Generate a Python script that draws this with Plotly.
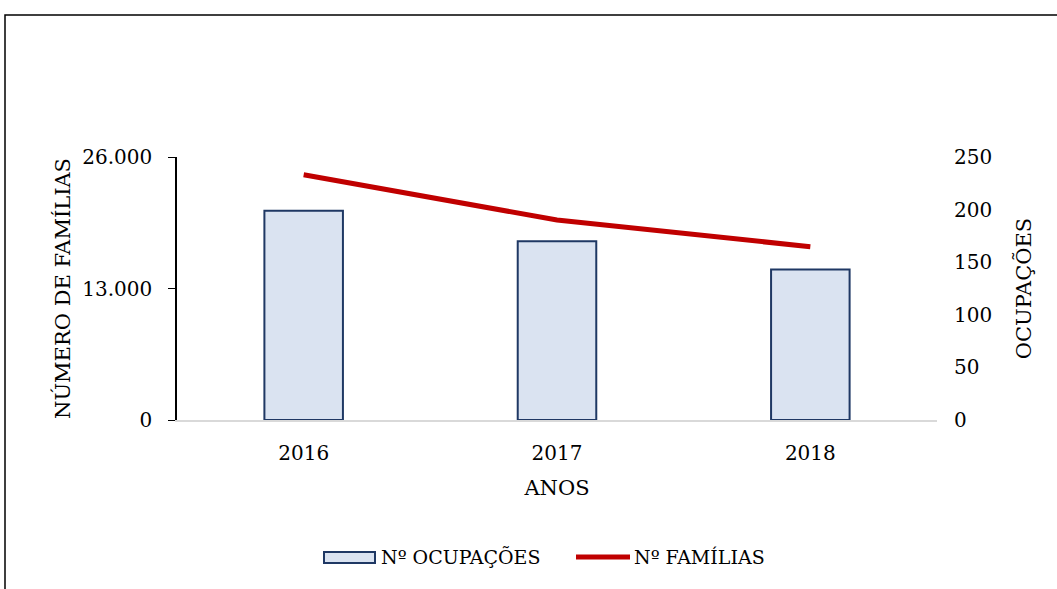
import plotly.graph_objects as go

anos = ["2016", "2017", "2018"]
ocupacoes = [199, 170, 143]
familias = [24250, 19770, 17130]
nome_barras = "Nº OCUPAÇÕES"
nome_linha = "Nº FAMÍLIAS"

FONT = "DejaVu Serif"
FS_TICK = 20
FS_TITLE = 21
FS_LEG = 19
BAR_FILL = "#DAE3F1"
BAR_LINE = "#1F3864"
LINE_COLOR = "#C00000"

L, R, T, B = 177, 120, 157, 169
W, H = 1057, 589
PW, PH = W - L - R, H - T - B


def px(x):
    return (x - L) / PW


def py(y):
    return (H - B - y) / PH


fig = go.Figure()
fig.add_trace(go.Bar(
    x=anos, y=ocupacoes, name=nome_barras, yaxis="y",
    width=0.31, marker=dict(color=BAR_FILL, line=dict(color=BAR_LINE, width=2)),
))
fig.add_trace(go.Scatter(
    x=anos, y=familias, name=nome_linha, yaxis="y2", mode="lines",
    line=dict(color=LINE_COLOR, width=5),
))

fig.update_layout(
    width=W, height=H,
    margin=dict(l=L, r=R, t=T, b=B, autoexpand=False),
    paper_bgcolor="white", plot_bgcolor="white",
    font=dict(family=FONT, size=FS_TICK, color="black"),
    separators=",.",
    showlegend=False,
    xaxis=dict(showline=True, linecolor="#D9D9D9", linewidth=1.5, ticks="",
               automargin=False, ticklabelstandoff=14,
               title=dict(text="ANOS", standoff=17, font=dict(size=FS_TITLE)),
               showgrid=False),
    yaxis=dict(side="right", range=[0, 250], dtick=50, showgrid=False, showline=False,
               zeroline=False, ticks="", automargin=False, ticklabelstandoff=16,
               title=dict(text="OCUPAÇÕES", standoff=25, font=dict(size=FS_TITLE))),
    yaxis2=dict(side="left", overlaying="y", range=[0, 26000],
                tickvals=[0, 13000, 26000], tickformat=",d",
                showgrid=False, zeroline=False, showline=True, linecolor="black",
                linewidth=1.5, ticks="outside", ticklen=7, tickcolor="black",
                automargin=False, ticklabelstandoff=12,
                title=dict(text="NÚMERO DE FAMÍLIAS", standoff=6,
                           font=dict(size=FS_TITLE))),
    shapes=[
        # outer frame
        dict(type="rect", xref="paper", yref="paper",
             x0=px(5), x1=px(1075), y0=py(605), y1=py(15),
             line=dict(color="black", width=1.5), fillcolor="rgba(0,0,0,0)"),
        # legend symbols
        dict(type="rect", xref="paper", yref="paper",
             x0=px(324), x1=px(375), y0=py(563), y1=py(552),
             line=dict(color=BAR_LINE, width=2), fillcolor=BAR_FILL),
        dict(type="line", xref="paper", yref="paper",
             x0=px(576), x1=px(630), y0=py(557), y1=py(557),
             line=dict(color=LINE_COLOR, width=5)),
    ],
    annotations=[
        dict(text=nome_barras, xref="paper", yref="paper", x=px(379), y=py(557),
             xanchor="left", yanchor="middle", showarrow=False,
             font=dict(family=FONT, size=FS_LEG)),
        dict(text=nome_linha, xref="paper", yref="paper", x=px(632), y=py(557),
             xanchor="left", yanchor="middle", showarrow=False,
             font=dict(family=FONT, size=FS_LEG)),
    ],
)

fig.write_html("out.html", config={"displayModeBar": False},
               post_script="document.body.style.margin='0';")
